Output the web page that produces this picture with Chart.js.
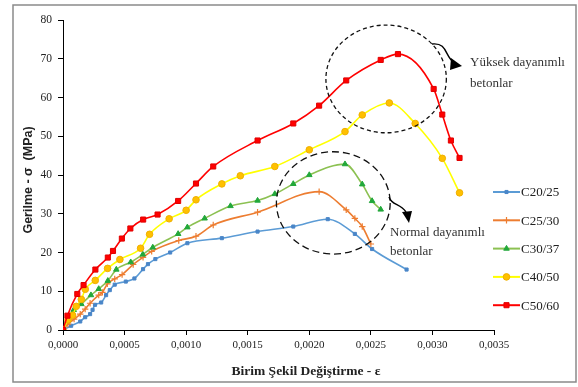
<!DOCTYPE html>
<html>
<head>
<meta charset="utf-8">
<script src="https://cdn.jsdelivr.net/npm/chart.js@4/dist/chart.umd.min.js"></script>
<style>
html,body{margin:0;padding:0;background:#fff;}
#wrap{width:578px;height:387px;position:relative;}
</style>
</head>
<body>
<div id="wrap"><canvas id="c" width="578" height="387"></canvas></div>
<script>
const seriesNames = ["C20/25", "C25/30", "C30/37", "C40/50", "C50/60"];

const c20Strain = [0, 0.000066, 0.00014, 0.00018, 0.00022, 0.00024, 0.00026, 0.00031, 0.00035, 0.00038, 0.00042, 0.00051, 0.00058, 0.00065, 0.00069, 0.00075, 0.00087, 0.00101, 0.00129, 0.00158, 0.00187, 0.00215, 0.00237, 0.00251, 0.00279];
const c20Stress = [0, 1.1, 2.2, 3.3, 4.1, 5.2, 6.5, 7.1, 9.0, 10.3, 11.7, 12.5, 13.3, 15.7, 17.0, 18.3, 20.0, 22.4, 23.7, 25.4, 26.7, 28.6, 24.8, 20.9, 15.6];

const c25Strain = [0, 0.00004, 0.00009, 0.00014, 0.00018, 0.00022, 0.00029, 0.00032, 0.00036, 0.00042, 0.00048, 0.00057, 0.00065, 0.00072, 0.00094, 0.00108, 0.00122, 0.00158, 0.00208, 0.0023, 0.00237, 0.00243, 0.0025];
const c25Stress = [0, 1.5, 2.8, 4.1, 5.4, 6.9, 9.0, 9.7, 11.9, 13.2, 14.3, 16.9, 18.75, 20.3, 23.1, 24.2, 27.1, 30.4, 35.7, 31.0, 28.8, 26.7, 22.2];

const c30Strain = [0, 0.000036, 0.000087, 0.000149, 0.000227, 0.00029, 0.000364, 0.000433, 0.00055, 0.000648, 0.000729, 0.000935, 0.00101, 0.00115, 0.00136, 0.00158, 0.00172, 0.00187, 0.002, 0.00229, 0.00243, 0.00251, 0.00258];
const c30Stress = [0, 2.4, 5.2, 6.7, 9.0, 10.6, 12.7, 15.6, 17.5, 19.5, 21.3, 24.8, 26.5, 28.8, 32.0, 33.4, 35.1, 37.7, 40.0, 42.8, 37.6, 33.3, 31.1];

const c40Strain = [0, 0.000041, 0.000078, 0.000108, 0.000149, 0.000181, 0.000262, 0.000362, 0.000462, 0.00063, 0.000703, 0.000862, 0.001, 0.00108, 0.00129, 0.00144, 0.00172, 0.002, 0.00229, 0.00243, 0.00265, 0.00286, 0.00308, 0.00322];
const c40Stress = [0, 2.6, 3.8, 6.1, 7.9, 10.5, 12.8, 15.9, 18.2, 21.1, 24.7, 28.7, 30.9, 33.6, 37.7, 39.8, 42.2, 46.5, 51.2, 55.5, 58.6, 53.3, 44.3, 35.4];

const c50Strain = [0, 0.000036, 0.000116, 0.000167, 0.000263, 0.000364, 0.000406, 0.000478, 0.000547, 0.000651, 0.000768, 0.000935, 0.00108, 0.00122, 0.00158, 0.00187, 0.00208, 0.0023, 0.00258, 0.00272, 0.00301, 0.00308, 0.00315, 0.00322];
const c50Stress = [0, 3.7, 9.3, 11.6, 15.6, 18.7, 20.4, 23.6, 26.2, 28.5, 29.8, 33.3, 37.8, 42.2, 48.9, 53.3, 57.9, 64.4, 69.7, 71.2, 62.2, 55.6, 48.9, 44.4];

const xTickValues = [0, 0.0005, 0.0010, 0.0015, 0.0020, 0.0025, 0.0030, 0.0035];
const yTickValues = [0, 10, 20, 30, 40, 50, 60, 70, 80];

const xAxisTitle = "Birim Şekil Değiştirme - ε";
const yAxisTitle = "Gerilme - σ  (MPa)";
const noteHigh = ["Yüksek dayanımlı", "betonlar"];
const noteNormal = ["Normal dayanımlı", "betonlar"];

function pts(xs, ys){ return xs.map((x,i)=>({x:x, y:ys[i]})); }

const styles = [
  {line:"#5B9BD5", fill:"#4A86C8", border:"#4A86C8", style:"rect", r:2.2, bw:1},
  {line:"#ED7D31", fill:"#ED7D31", border:"#ED7D31", style:"cross", r:3.2, bw:1.2},
  {line:"#8CC152", fill:"#22A83A", border:"#22A83A", style:"triangle", r:3.2, bw:1},
  {line:"#FFFF00", fill:"#FFC000", border:"#F0B000", style:"circle", r:3.3, bw:1},
  {line:"#FF0000", fill:"#FF0000", border:"#E00000", style:"rect", r:3.6, bw:1}
];
const allData = [pts(c20Strain,c20Stress), pts(c25Strain,c25Stress), pts(c30Strain,c30Stress), pts(c40Strain,c40Stress), pts(c50Strain,c50Stress)];

const datasets = seriesNames.map((n,i)=>({
  label:n,
  data:allData[i],
  borderColor:styles[i].line,
  backgroundColor:styles[i].fill,
  pointBackgroundColor:styles[i].fill,
  pointBorderColor:styles[i].border,
  pointStyle:styles[i].style,
  pointRadius:styles[i].r,
  pointBorderWidth:styles[i].bw,
  borderWidth:1.6,
  cubicInterpolationMode:'monotone',
  fill:false,
  order: 5-i
}));

const decor = {
  id:'decor',
  beforeDraw(chart){
    const ctx = chart.ctx;
    ctx.save();
    ctx.fillStyle = '#fff';
    ctx.fillRect(0,0,chart.width,chart.height);
    ctx.strokeStyle = '#8a8a8a';
    ctx.lineWidth = 1.5;
    ctx.strokeRect(13,5,563,377);
    ctx.restore();
  },
  afterDraw(chart){
    const ctx = chart.ctx;
    const xs = chart.scales.x, ys = chart.scales.y;
    const px = v=>xs.getPixelForValue(v), py = v=>ys.getPixelForValue(v);
    ctx.save();
    // axis titles
    ctx.fillStyle = '#222';
    ctx.font = 'bold 13.5px "Liberation Serif"';
    ctx.textAlign = 'center';
    ctx.textBaseline = 'middle';
    ctx.fillText(xAxisTitle, 306, 372);
    ctx.save();
    ctx.translate(29, 180);
    ctx.rotate(-Math.PI/2);
    ctx.font = 'bold 12.5px "Liberation Sans"';
    ctx.fillText(yAxisTitle, 0, 0);
    ctx.restore();

    // dashed ellipses (data coordinates)
    ctx.strokeStyle = '#111';
    ctx.lineWidth = 1.3;
    ctx.setLineDash([4,3]);
    ctx.beginPath();
    ctx.ellipse(px(0.002624), py(64.8), px(0.002624+0.000489)-px(0.002624), py(64.8)-py(64.8+13.9), 0, 0, Math.PI*2);
    ctx.stroke();
    ctx.setLineDash([7,4]);
    ctx.beginPath();
    ctx.ellipse(px(0.002195), py(32.8), px(0.002195+0.000462)-px(0.002195), py(32.8)-py(32.8+13.2), 0, 0, Math.PI*2);
    ctx.stroke();
    ctx.setLineDash([]);

    // arrows
    ctx.lineWidth = 1.4;
    ctx.strokeStyle = '#000';
    ctx.fillStyle = '#000';
    ctx.beginPath();
    ctx.moveTo(432,44);
    ctx.bezierCurveTo(448,42,445,58,454,62);
    ctx.stroke();
    ctx.beginPath();
    ctx.moveTo(462,66); ctx.lineTo(451,58); ctx.lineTo(450,70); ctx.closePath(); ctx.fill();

    ctx.beginPath();
    ctx.moveTo(389,197);
    ctx.bezierCurveTo(392,206,400,203,406,212);
    ctx.stroke();
    ctx.beginPath();
    ctx.moveTo(409,223); ctx.lineTo(402,212); ctx.lineTo(412,211); ctx.closePath(); ctx.fill();

    // note texts
    ctx.fillStyle = '#333';
    ctx.font = '13px "Liberation Serif"';
    ctx.textAlign = 'left';
    ctx.textBaseline = 'middle';
    ctx.fillText(noteHigh[0], 470, 63);
    ctx.fillText(noteHigh[1], 470, 84);
    ctx.fillText(noteNormal[0], 390, 233);
    ctx.fillText(noteNormal[1], 390, 252);

    // legend
    chart.data.datasets.forEach((d,i)=>{
      const y = 192 + i*28.3;
      ctx.strokeStyle = d.borderColor;
      ctx.lineWidth = 2;
      ctx.beginPath(); ctx.moveTo(493,y); ctx.lineTo(520,y); ctx.stroke();
      ctx.fillStyle = d.pointBackgroundColor;
      ctx.strokeStyle = d.pointBorderColor;
      ctx.lineWidth = d.pointBorderWidth;
      Chart.helpers.drawPoint(ctx, {pointStyle:d.pointStyle, radius:d.pointRadius, borderWidth:d.pointBorderWidth, rotation:0}, 506.5, y);
      ctx.fillStyle = '#222';
      ctx.font = '13px "Liberation Serif"';
      ctx.textAlign = 'left';
      ctx.textBaseline = 'middle';
      ctx.fillText(d.label, 521, y+1);
    });
    ctx.restore();
  }
};

new Chart(document.getElementById('c'), {
  type:'line',
  data:{datasets:datasets},
  options:{
    responsive:false,
    animation:false,
    devicePixelRatio:1,
    layout:{padding:{left:0, right:84, top:20, bottom:0}},
    plugins:{legend:{display:false}, tooltip:{enabled:false}},
    scales:{
      x:{
        type:'linear', min:0, max:0.0035,
        afterBuildTicks(s){ s.ticks = xTickValues.map(v=>({value:v})); },
        afterFit(s){ s.height = 57; },
        border:{color:'#000', width:1},
        grid:{drawOnChartArea:false, drawTicks:true, tickLength:5, color:'#000'},
        ticks:{color:'#222', font:{family:'"Liberation Serif"', size:11}, padding:4, maxRotation:0,
          callback:v=>v.toFixed(4).replace('.',',')}
      },
      y:{
        type:'linear', min:0, max:80,
        afterBuildTicks(s){ s.ticks = yTickValues.map(v=>({value:v})); },
        afterFit(s){ s.width = 63; },
        border:{color:'#000', width:1},
        grid:{drawOnChartArea:false, drawTicks:true, tickLength:5, color:'#000'},
        ticks:{color:'#222', font:{family:'"Liberation Serif"', size:11.5}, padding:6,
          callback:v=>String(v)}
      }
    }
  },
  plugins:[decor]
});
</script>
</body>
</html>
